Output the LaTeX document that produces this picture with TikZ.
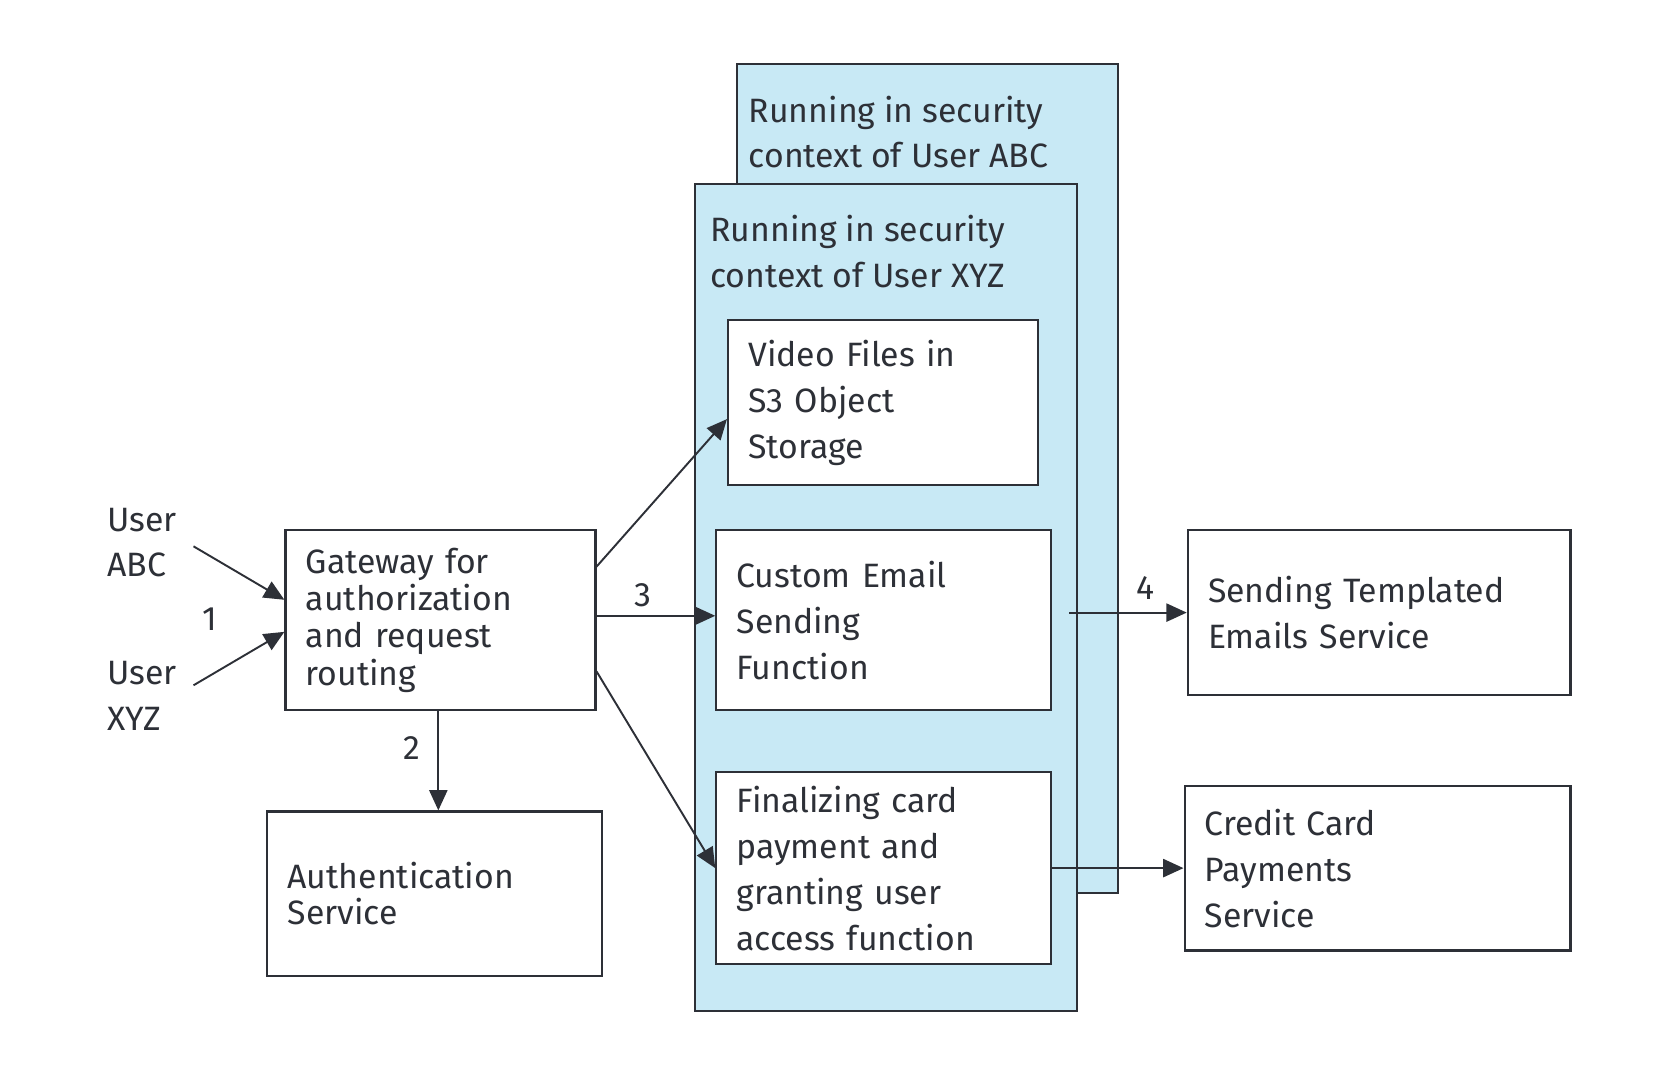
\documentclass[tikz,border=0pt]{standalone}
\usepackage{fontspec}
\setmainfont{Fira Sans}
\usetikzlibrary{arrows.meta,calc}
\definecolor{ink}{RGB}{45,48,55}
\definecolor{ctx}{RGB}{200,233,245}
\begin{document}
\begin{tikzpicture}[x=0.5pt,y=-0.5pt,
  every node/.style={text=ink,font=\fontsize{15.8pt}{21.5pt}\selectfont},
  box/.style={draw=ink,line width=1pt,fill=white,rectangle,inner xsep=9.5pt,inner ysep=0pt,align=left},
  frame/.style={draw=ink,line width=1pt,fill=ctx,rectangle,inner sep=0pt},
  plain/.style={inner sep=0pt,align=left},
  conn/.style={draw=ink,line width=0.9pt,-{Triangle[length=9.5pt,width=8.5pt]}}]
\useasboundingbox (0,0) rectangle (1563,996);
% frames
\node[frame,minimum width=178.5pt,minimum height=387.5pt] (fabc) at (867.5,447.5) {};
\node[plain,anchor=west] (tabc) at (700,123.5) {Running in security\\context of User ABC};
\node[frame,minimum width=178.5pt,minimum height=387pt] (fxyz) at (828.5,559) {};
\node[plain,anchor=west] (txyz) at (664,235.5) {Running in security\\context of User XYZ};
% boxes
\node[box,minimum width=145pt,minimum height=77.5pt,text width=126pt] (video) at (826,376.5) {Video Files in\\S3 Object\\Storage};
\node[box,minimum width=156.5pt,minimum height=84pt,text width=137.5pt] (email) at (826.5,580) {Custom Email\\Sending\\Function};
\node[box,minimum width=156.5pt,minimum height=90pt,text width=137.5pt] (final) at (826.5,812) {Finalizing card\\payment and\\granting user\\access function};
\node[box,minimum width=145pt,minimum height=84pt,text width=126pt,font=\fontsize{15.8pt}{17.5pt}\selectfont] (gw) at (412,580) {Gateway for\\authorization\\and request\\routing};
\node[box,minimum width=156.5pt,minimum height=77pt,text width=137.5pt,font=\fontsize{15.8pt}{17pt}\selectfont] (auth) at (406.5,836) {Authentication\\Service};
\node[box,minimum width=179pt,minimum height=77pt,text width=160pt] (send) at (1290,573) {Sending Templated\\Emails Service};
\node[box,minimum width=180.5pt,minimum height=77pt,text width=161.5pt] (credit) at (1288.5,812) {Credit Card\\Payments\\Service};
% users
\node[plain,anchor=west] (uabc) at (100,507.5) {User\\ABC};
\node[plain,anchor=west] (uxyz) at (100,650.5) {User\\XYZ};
% labels
\node[plain] (l1) at (196,579) {1};
\node[plain] (l2) at (385,700) {2};
\node[plain] (l3) at (601,557) {3};
\node[plain] (l4) at (1071,550) {4};
% connectors
\coordinate (sabc) at (181,511);
\coordinate (sxyz) at (181,641);
\draw[conn] (sabc) -- ($(gw.west)+(0,-19)$);
\draw[conn] (sxyz) -- ($(gw.west)+(0,11)$);
\draw[conn] (gw.south -| 410,0) -- (410,0 |- auth.north);
\draw[conn] ($(gw.east)+(0,-50)$) -- ($(video.west)+(0,15.5)$);
\draw[conn] ($(gw.east)+(0,-4)$) -- ($(email.west)+(0,-4)$);
\draw[conn] ($(gw.east)+(0,48)$) -- (final.west);
\coordinate (semail) at ($(email.east)+(16,0)$);
\draw[conn] (semail |- send.west) -- (send.west);
\draw[conn] (final.east) -- (credit.west);
\end{tikzpicture}
\end{document}
